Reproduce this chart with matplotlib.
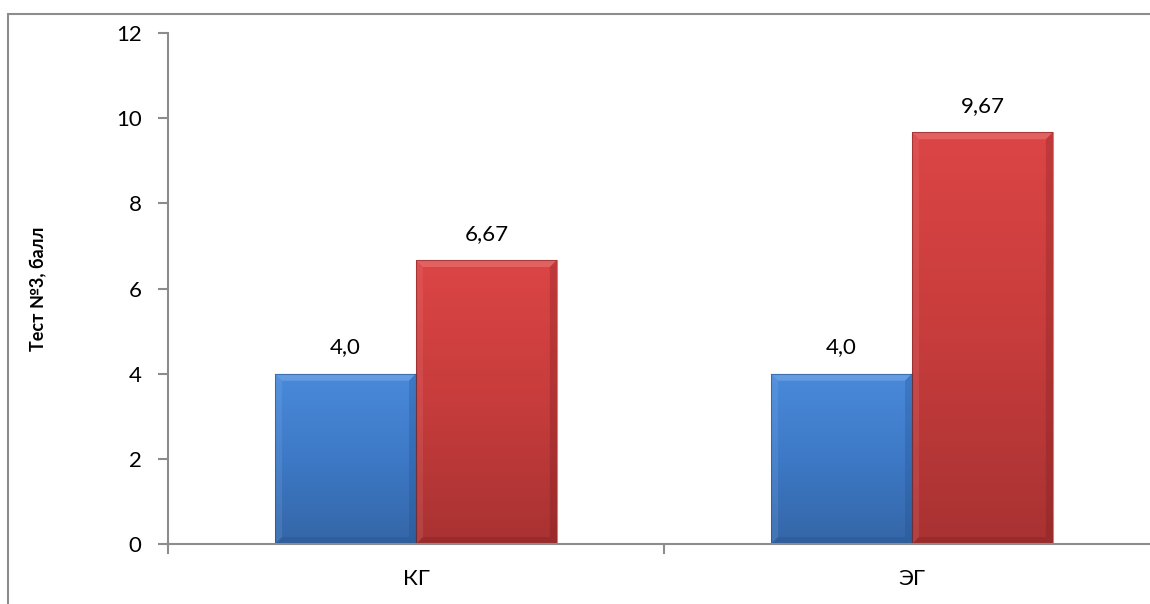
import numpy as np
import matplotlib
matplotlib.use("Agg")
import matplotlib.pyplot as plt
from matplotlib.patches import Rectangle, Polygon
from matplotlib.colors import LinearSegmentedColormap

plt.rcParams['font.family'] = ['Lato', 'DejaVu Sans']

categories = ["КГ", "ЭГ"]
before = [4.0, 4.0]
after = [6.67, 9.67]
before_labels = ["4,0", "4,0"]
after_labels = ["6,67", "9,67"]
y_ticks = [0, 2, 4, 6, 8, 10, 12]

W, H, DPI = 1150, 604, 100
fig = plt.figure(figsize=(W / DPI, H / DPI), dpi=DPI)
fig.patch.set_facecolor("white")

# chart frame
fig.patches.append(Rectangle((8 / W, -0.1), 1.2, (H - 14) / H + 0.1,
                             transform=fig.transFigure, fill=False,
                             edgecolor="#8c8c8c", linewidth=1.5, zorder=0))

ax = fig.add_axes([168 / W, (H - 544) / H, (1160 - 168) / W, (544 - 33) / H])
ax.set_xlim(-0.5, 1.5)
ax.set_ylim(0, 12)

x = np.arange(len(categories))
width = 0.284

blue_cmap = LinearSegmentedColormap.from_list("b", ["#4a8adb", "#3d79c6", "#3466a7"])
red_cmap = LinearSegmentedColormap.from_list("r", ["#dc4545", "#c73c3c", "#a93232"])

bars_b = ax.bar(x - width / 2, before, width, color="#3b77c4", zorder=2)
bars_r = ax.bar(x + width / 2, after, width, color="#c93c3c", zorder=2)

fig.canvas.draw()
px_x = (ax.get_xlim()[1] - ax.get_xlim()[0]) / (ax.bbox.width)
px_y = (ax.get_ylim()[1] - ax.get_ylim()[0]) / (ax.bbox.height)
bev = 7


def dress(bar, cmap, light, dark):
    x0, y0 = bar.get_x(), bar.get_y()
    w, h = bar.get_width(), bar.get_height()
    grad = np.linspace(0, 1, 256).reshape(-1, 1)
    im = ax.imshow(grad, cmap=cmap, aspect="auto", origin="upper",
                   extent=(x0, x0 + w, y0, y0 + h),
                   zorder=2.1, interpolation="bilinear")
    im.set_clip_path(bar)
    bx, by = bev * px_x, bev * px_y
    # bevelled edges
    ax.add_patch(Polygon([(x0, y0 + h), (x0 + w, y0 + h), (x0 + w - bx, y0 + h - by),
                          (x0 + bx, y0 + h - by)], closed=True, facecolor=light,
                         edgecolor="none", alpha=0.35, zorder=2.2))
    ax.add_patch(Polygon([(x0, y0), (x0, y0 + h), (x0 + bx, y0 + h - by), (x0 + bx, y0 + by)],
                         closed=True, facecolor=light, edgecolor="none", alpha=0.15, zorder=2.2))
    ax.add_patch(Polygon([(x0 + w, y0), (x0 + w, y0 + h), (x0 + w - bx, y0 + h - by),
                          (x0 + w - bx, y0 + by)], closed=True, facecolor=dark,
                         edgecolor="none", alpha=0.25, zorder=2.2))
    ax.add_patch(Polygon([(x0, y0), (x0 + w, y0), (x0 + w - bx, y0 + by), (x0 + bx, y0 + by)],
                         closed=True, facecolor=dark, edgecolor="none", alpha=0.25, zorder=2.2))
    ax.add_patch(Rectangle((x0, y0), w, h, fill=False, edgecolor=dark, linewidth=0.8,
                           alpha=0.5, zorder=2.3))


for b in bars_b:
    dress(b, blue_cmap, "#9cc2f2", "#1f4a80")
for b in bars_r:
    dress(b, red_cmap, "#f29a9a", "#6e1a1a")

for b, t in zip(bars_b, before_labels):
    ax.text(b.get_x() + b.get_width() / 2, b.get_height() + 0.38, t,
            ha="center", va="bottom", fontsize=16, color="black")
for b, t in zip(bars_r, after_labels):
    ax.text(b.get_x() + b.get_width() / 2, b.get_height() + 0.38, t,
            ha="center", va="bottom", fontsize=16, color="black")

for s in ["top", "right"]:
    ax.spines[s].set_visible(False)
for s in ["left", "bottom"]:
    ax.spines[s].set_color("#8c8c8c")
    ax.spines[s].set_linewidth(1.5)

ax.set_yticks(y_ticks)
ax.set_yticklabels([str(v) for v in y_ticks], fontsize=16)
ax.set_xticks([-0.5, 0.5, 1.5], minor=True)
ax.set_xticks(x)
ax.set_xticklabels(categories, fontsize=16)
ax.tick_params(axis="x", which="major", length=0, pad=18)
ax.tick_params(axis="x", which="minor", length=7, width=1.5, color="#8c8c8c", direction="out")
ax.tick_params(axis="y", length=7, width=1.5, color="#8c8c8c", pad=12)

fig.text(39 / W, (H - 289) / H, "Тест №3, балл", rotation=90, ha="center", va="center",
         fontsize=13, fontweight="bold")

fig.savefig("out.png", dpi=DPI)
